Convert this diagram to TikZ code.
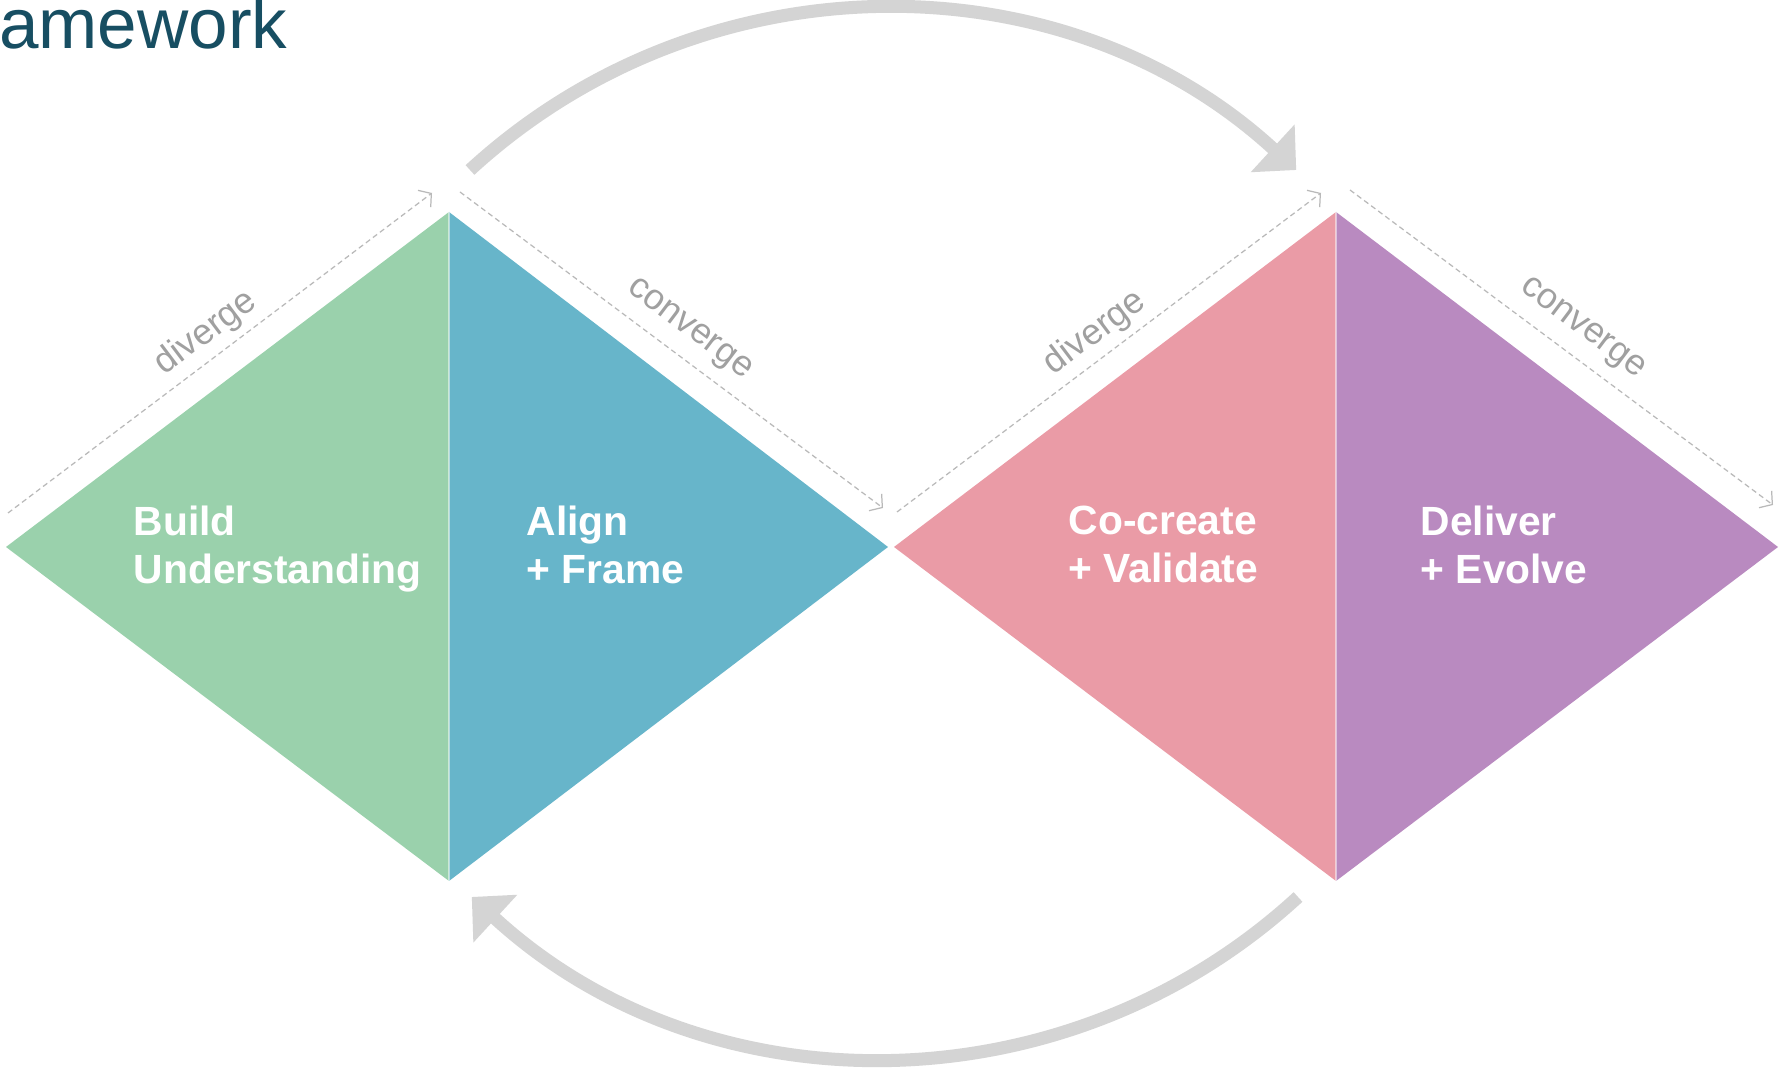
\documentclass[tikz,border=0pt]{standalone}
\usepackage{fontspec}
\setmainfont{Liberation Sans}
\usetikzlibrary{arrows.meta}
\definecolor{titleblue}{RGB}{23,78,98}
\definecolor{buildgreen}{RGB}{154,209,172}
\definecolor{alignblue}{RGB}{103,181,202}
\definecolor{cocreatepink}{RGB}{234,155,166}
\definecolor{deliverpurple}{RGB}{185,138,192}
\definecolor{loopgray}{RGB}{212,212,212}
\definecolor{guidegray}{RGB}{185,185,185}
\definecolor{labelgray}{RGB}{160,160,160}
\tikzset{
    phase/.style={anchor=north west, inner sep=0pt, align=left, text=white,
        font=\fontsize{11.6}{13.7}\selectfont\bfseries},
    guide/.style={draw=guidegray, line width=0.35pt, dash pattern=on 1.5pt off 1pt,
        -{Straight Barb[length=2.5pt,width=6pt]}},
    guidelabel/.style={text=labelgray, inner sep=0pt, font=\fontsize{10.2}{12}\selectfont},
    cyclearrow/.style={draw=loopgray, line width=0.13cm,
        -{Triangle[length=0.32cm,width=0.63cm]}},
    splitline/.style={draw=white, opacity=0.5, line width=0.6pt}
}
\begin{document}
\begin{tikzpicture}[x=0.01cm, y=0.01cm]
    \useasboundingbox[fill=white] (0,0) rectangle (1781,-1071);
    \node[anchor=base east, inner sep=0pt, text=titleblue, font=\fontsize{20.2}{24}\selectfont] (title) at (288,-49) {amework};
    % first diamond
    \coordinate (dAl) at (6,-547);
    \coordinate (dAt) at (449,-212);
    \coordinate (dAb) at (449,-881);
    \coordinate (dAr) at (888,-547);
    \fill[buildgreen] (dAl) -- (dAt) -- (dAb) -- cycle;
    \fill[alignblue] (dAt) -- (dAr) -- (dAb) -- cycle;
    \draw[splitline] (dAt) -- (dAb);
    % second diamond
    \coordinate (dBl) at (894,-547);
    \coordinate (dBt) at (1336,-212);
    \coordinate (dBb) at (1336,-881);
    \coordinate (dBr) at (1778,-547);
    \fill[cocreatepink] (dBl) -- (dBt) -- (dBb) -- cycle;
    \fill[deliverpurple] (dBt) -- (dBr) -- (dBb) -- cycle;
    \draw[splitline] (dBt) -- (dBb);
    % dashed guides
    \coordinate (gA1) at (8,-513);
    \coordinate (gA2) at (432,-193);
    \coordinate (gB1) at (460,-192);
    \coordinate (gB2) at (883,-508);
    \coordinate (gC1) at (897,-512);
    \coordinate (gC2) at (1321,-193);
    \coordinate (gD1) at (1350,-190);
    \coordinate (gD2) at (1773,-505);
    \draw[guide] (gA1) -- (gA2);
    \draw[guide] (gB1) -- (gB2);
    \draw[guide] (gC1) -- (gC2);
    \draw[guide] (gD1) -- (gD2);
    \node[guidelabel, rotate=37] (divA) at (206,-333) {diverge};
    \node[guidelabel, rotate=-37] (conA) at (689,-330) {converge};
    \node[guidelabel, rotate=37] (divB) at (1095,-333) {diverge};
    \node[guidelabel, rotate=-37] (conB) at (1582,-329) {converge};
    % phases
    \node[phase] (build) at (133,-505) {Build\\Understanding};
    \node[phase] (align) at (526,-505) {Align\\+ Frame};
    \node[phase] (cocreate) at (1068,-505) {Co-create\\+ Validate};
    \node[phase] (deliver) at (1420,-505) {Deliver\\+ Evolve};
    % cycle arrows
    \coordinate (fwdTail) at (470,-170);
    \coordinate (backTail) at (1298,-897);
    \draw[cyclearrow] (fwdTail) arc[start angle=132.6, end angle=47.4, radius=6.1cm];
    \draw[cyclearrow] (backTail) arc[start angle=-47.4, end angle=-132.6, radius=6.1cm];
\end{tikzpicture}
\end{document}
